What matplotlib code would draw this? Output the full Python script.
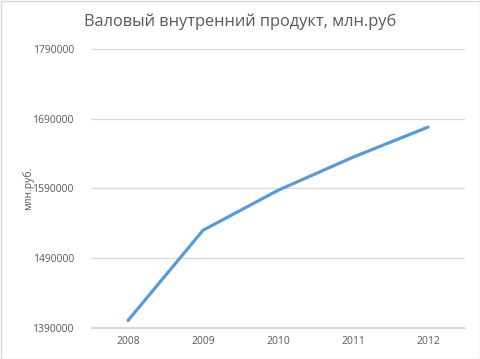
import matplotlib.pyplot as plt
from matplotlib.patches import Rectangle

years = ['2008', '2009', '2010', '2011', '2012']
gdp = [1400000, 1529600, 1587000, 1634600, 1677800]
yticks = [1390000, 1490000, 1590000, 1690000, 1790000]

plt.rcParams['font.family'] = ['Open Sans', 'DejaVu Sans']

fig = plt.figure(figsize=(4.81, 3.59), dpi=100)
ax = fig.add_axes([90.5 / 481, (359 - 327.5) / 359, 375 / 481, 278.5 / 359])

x = range(len(years))
ax.plot(x, gdp, color='#5B9BD5', linewidth=2.3, solid_capstyle='round')
ax.set_xlim(-0.5, len(years) - 0.5)
ax.set_ylim(1390000, 1790000)
ax.set_xticks(list(x))
ax.set_xticklabels(years)
ax.set_yticks(yticks)
ax.set_yticklabels([str(v) for v in yticks])
ax.tick_params(length=0, labelsize=7.5, colors='#595959', pad=6)
ax.tick_params(axis='y', pad=12)
ax.grid(axis='y', color='#D9D9D9', linewidth=0.9)
ax.set_axisbelow(True)
for s in ['top', 'right', 'left']:
    ax.spines[s].set_visible(False)
ax.spines['bottom'].set_color('#D9D9D9')
ax.set_ylabel('млн.руб.', fontsize=7.5, color='#595959', labelpad=-1.5)

fig.text(0.5, 1 - 22 / 359, 'Валовый внутренний продукт, млн.руб', ha='center', va='center',
         fontsize=11.8, color='#595959')
fig.patches.append(Rectangle((0.5 / 481, 0.5 / 359), 480 / 481, 358 / 359, transform=fig.transFigure,
                             fill=False, edgecolor='#D9D9D9', linewidth=1))

fig.savefig('out.png', dpi=100)
